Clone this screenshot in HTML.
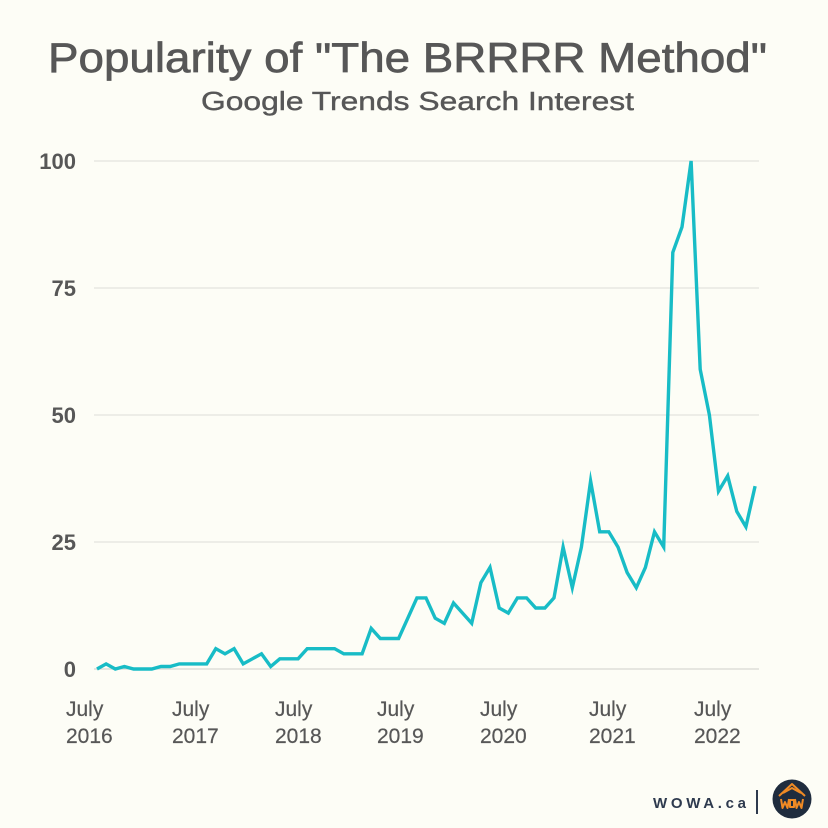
<!DOCTYPE html>
<html>
<head>
<meta charset="utf-8">
<style>
html,body{margin:0;padding:0;background:#fdfdf6;}
svg{display:block;}
</style>
</head>
<body>
<svg width="828" height="828" viewBox="0 0 828 828" xmlns="http://www.w3.org/2000/svg">
<rect x="0" y="0" width="828" height="828" fill="#fdfdf6"/>
<text x="48" y="72" font-family="Liberation Sans, sans-serif" font-size="42" fill="#575757" stroke="#575757" stroke-width="0.7" textLength="719" lengthAdjust="spacingAndGlyphs">Popularity of "The BRRRR Method"</text>
<text x="201" y="110" font-family="Liberation Sans, sans-serif" font-size="26" fill="#575757" stroke="#575757" stroke-width="0.4" textLength="433" lengthAdjust="spacingAndGlyphs">Google Trends Search Interest</text>

<g stroke="#e4e4de" stroke-width="1.3">
<line x1="94" y1="161" x2="759" y2="161"/>
<line x1="94" y1="288" x2="759" y2="288"/>
<line x1="94" y1="415" x2="759" y2="415"/>
<line x1="94" y1="542" x2="759" y2="542"/>
<line x1="94" y1="669" x2="759" y2="669" stroke="#d8d8d2"/>
</g>

<g font-family="Liberation Sans, sans-serif" font-size="22" font-weight="bold" fill="#575757" text-anchor="end">
<text x="76" y="169">100</text>
<text x="76" y="296">75</text>
<text x="76" y="423">50</text>
<text x="76" y="550">25</text>
<text x="76" y="677">0</text>
</g>

<g font-family="Liberation Sans, sans-serif" font-size="21" fill="#575757" stroke="#575757" stroke-width="0.2">
<text x="66" y="716">July</text><text x="66" y="743">2016</text>
<text x="172" y="716">July</text><text x="172" y="743">2017</text>
<text x="275" y="716">July</text><text x="275" y="743">2018</text>
<text x="377" y="716">July</text><text x="377" y="743">2019</text>
<text x="480" y="716">July</text><text x="480" y="743">2020</text>
<text x="589" y="716">July</text><text x="589" y="743">2021</text>
<text x="694" y="716">July</text><text x="694" y="743">2022</text>
</g>

<polyline fill="none" stroke="#18bcc6" stroke-width="3.4" stroke-linejoin="miter" stroke-miterlimit="10" points="
97,669 106.1,663.9 115.3,669 124.4,666.5 133.6,669 142.7,669 151.8,669 161,666.5 170.1,666.5 179.3,663.9
188.4,663.9 197.5,663.9 206.7,663.9 215.8,648.7 225,653.8 234.1,648.7 243.2,663.9 252.4,658.8 261.5,653.8 270.7,666.5
279.8,658.8 288.9,658.8 298.1,658.8 307.2,648.7 316.4,648.7 325.5,648.7 334.6,648.7 343.8,653.8 352.9,653.8 362.1,653.8
371.2,628.4 380.3,638.5 389.5,638.5 398.6,638.5 407.8,618.2 416.9,597.9 426,597.9 435.2,618.2 444.3,623.3 453.5,603
462.6,613.1 471.7,623.3 480.9,582.6 490,567.4 499.2,608 508.3,613.1 517.4,597.9 526.6,597.9 535.7,608 544.9,608
554,597.9 563.1,547.1 572.3,587.7 581.4,547.1 590.6,481 599.7,531.8 608.8,531.8 618,547.1 627.1,572.5 636.3,587.7
645.4,567.4 654.5,531.8 663.7,547.1 672.8,252.4 682,227 691.1,161 700.2,369.3 709.4,415 718.5,491.2 727.7,475.9
736.8,511.5 745.9,526.8 755.1,486.1"/>

<text x="653" y="808" font-family="Liberation Sans, sans-serif" font-size="15" font-weight="bold" fill="#2e3a4e" textLength="93" lengthAdjust="spacing">WOWA.ca</text>
<line x1="757" y1="790" x2="757" y2="814" stroke="#2e3a4e" stroke-width="2"/>
<circle cx="792" cy="799" r="19.5" fill="#1f2c3e"/>
<g fill="none" stroke="#f08a24" stroke-width="2" stroke-linejoin="round">
<polyline points="779,796 792,784 805,796"/>
<polyline points="783,793 792,788 801,793"/>
<polyline points="781,799 782.5,808 785,802 787.5,808 789,799"/>
<rect x="790" y="800" width="4" height="7"/>
<polyline points="795,799 796.5,808 799,802 801.5,808 803,799"/>
</g>
</svg>
</body>
</html>
